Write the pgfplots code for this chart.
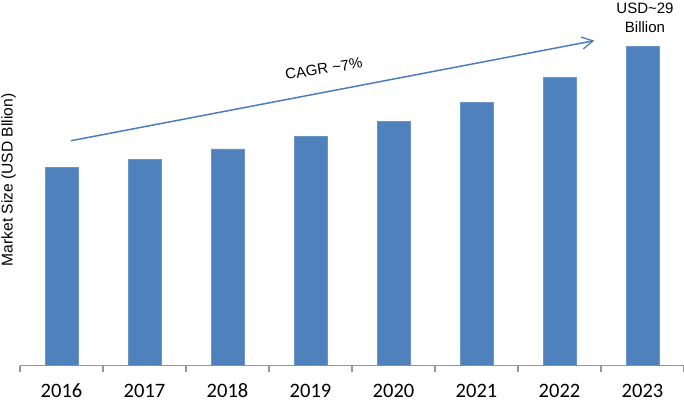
\documentclass[border=0pt]{standalone}
\usepackage{pgfplots}
\pgfplotsset{compat=1.18}
\usepackage{fontspec}
\setmainfont{Liberation Sans}
\newfontfamily\carlito{Carlito}
\usetikzlibrary{arrows.meta}
\definecolor{barblue}{RGB}{79,129,189}
\definecolor{arrowblue}{RGB}{74,126,192}
\definecolor{axisgray}{RGB}{150,150,150}

\begin{document}
\begin{tikzpicture}[x=1bp,y=1bp]
  \useasboundingbox (0,0) rectangle (684,401);
  \begin{axis}[
      at={(20bp,35.3bp)}, anchor=south west,
      scale only axis,
      width=664bp, height=365.7bp,
      xmin=-0.5, xmax=7.5,
      ymin=0, ymax=33.245,
      axis x line*=bottom,
      axis y line=none,
      axis line style={axisgray, line width=1.2bp},
      xtick={0,...,7},
      xticklabels={2016,2017,2018,2019,2020,2021,2022,2023},
      major tick length=0pt,
      minor xtick={-0.5,0.5,...,7.5},
      minor tick length=6.5bp,
      tick align=outside,
      minor tick style={axisgray, line width=1.2bp},
      xticklabel style={font=\carlito\fontsize{20.5bp}{24bp}\selectfont,
        inner sep=0pt, anchor=north, yshift=-18bp},
      ytick=\empty,
      clip=false,
    ]
    \addplot[ybar, bar width=33bp, fill=barblue, draw=barblue!85!white,
      line width=0.6bp]
      coordinates {
        (0,18.04) (1,18.76) (2,19.70) (3,20.82)
        (4,22.22) (5,23.97) (6,26.18) (7,29.00)
      };
    % growth arrow
    \draw[arrowblue, line width=1.5bp,
      -{Straight Barb[length=11bp, width=12bp, line width=1.3bp]}]
      (axis cs:0.114,20.45) -- (axis cs:6.42,29.55);
    \node[rotate=9, font=\fontsize{15bp}{18bp}\selectfont]
      at (axis cs:3.16,27.0) {CAGR \textasciitilde 7\%};
    \node[anchor=south, inner sep=0pt, align=center,
      font=\fontsize{15bp}{19bp}\selectfont]
      at (axis cs:7.03,30.22) {USD\textasciitilde 29\\Billion};
    \node[rotate=90, font=\fontsize{15.6bp}{18bp}\selectfont]
      at (axis cs:-0.639,16.88) {Market Size (USD Bllion)};
  \end{axis}
\end{tikzpicture}
\end{document}
